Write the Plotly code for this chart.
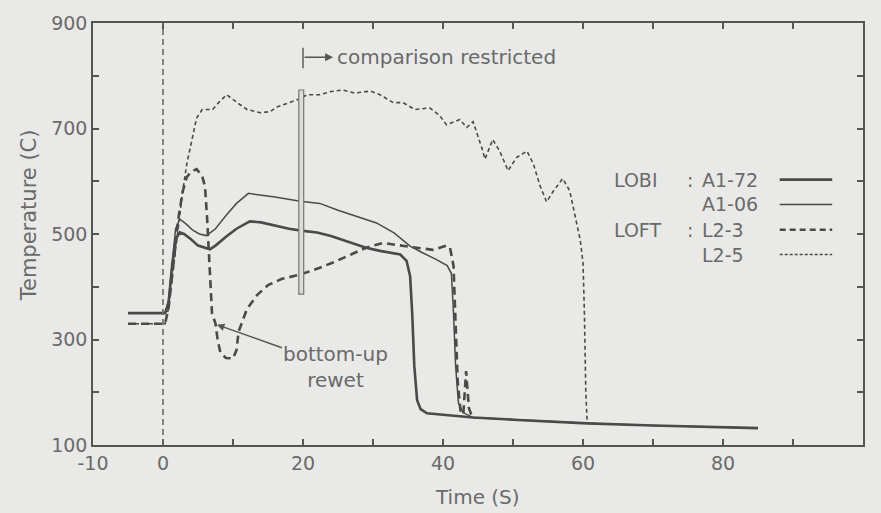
import plotly.graph_objects as go

# ---- data ----
a172_t = [-5, 0.3, 0.8, 1.3, 1.8, 2.4, 3.0, 4.0, 5.0, 6.0, 6.7, 7.5, 9.0, 10.5, 12.4, 14, 16, 18, 20, 22, 24, 26, 29, 31, 33.9, 34.8, 35.3, 35.6, 35.9, 36.3, 36.8, 37.7, 40, 44.3, 50, 60.6, 70, 85]
a172_y = [350, 350, 370, 440, 490, 503, 500, 490, 478, 473, 471, 478, 495, 510, 524, 522, 516, 510, 506, 503, 496, 487, 474, 468, 461, 449, 420, 350, 250, 185, 168, 160, 157, 152, 148, 141, 137, 132]

a106_t = [-5, 0.3, 0.8, 1.3, 1.8, 2.4, 3.2, 4.2, 5.2, 6.2, 7.5, 9.0, 10.5, 12.2, 14, 16, 19.6, 22.4, 25, 28, 30.5, 33, 35.3, 37, 39, 40.6, 41.2, 41.5, 41.8, 42.2, 42.8, 44.3, 50, 60.6, 70, 85]
a106_y = [350, 350, 375, 450, 510, 528, 520, 508, 500, 497, 510, 535, 558, 577, 574, 570, 562, 558, 545, 532, 521, 502, 477, 465, 452, 440, 425, 350, 250, 180, 162, 152, 148, 141, 137, 132]

l23_t = [-5, 0.3, 0.8, 1.5, 2.2, 2.8, 3.4, 4.0, 4.8, 5.6, 6.0, 6.3, 6.6, 7.0, 7.5, 7.8, 8.2, 9.0, 10.0, 10.5, 10.8, 12.0, 13.5, 15.0, 17, 19.6, 22.4, 24.3, 27, 29, 31.4, 33.9, 36.2, 38.6, 40.5, 41.0, 41.5, 41.8, 42.1, 42.5, 42.9, 43.3, 43.7, 44.2]
l23_y = [330, 330, 360, 450, 530, 580, 608, 618, 623, 610, 590, 530, 450, 350, 330, 300, 275, 265, 264, 280, 315, 358, 385, 403, 415, 423, 436, 446, 462, 474, 483, 479, 474, 470, 478, 474, 440, 330, 220, 165, 158, 240, 170, 152]

l25_t = [-5, 0.3, 0.8, 1.5, 2.2, 2.8, 3.4, 4.1, 4.8, 5.6, 7.1, 8.0, 9.1, 10.6, 12, 13.9, 15.3, 16.3, 19.1, 20.6, 22.4, 24, 25.7, 27.4, 29.6, 31, 32.9, 34.3, 36, 38.1, 39.5, 40.5, 42.4, 43.4, 44.3, 45.6, 46, 47.1, 48.1, 49.3, 50.5, 52, 52.9, 53.9, 54.8, 55.8, 57.1, 58.1, 59.0, 59.6, 60.0, 60.2, 60.4, 60.6]
l25_y = [330, 330, 360, 440, 520, 580, 633, 676, 720, 736, 736, 750, 764, 749, 736, 730, 732, 741, 754, 764, 764, 770, 773, 767, 771, 764, 749, 749, 736, 739, 725, 707, 717, 702, 713, 661, 642, 679, 657, 620, 645, 657, 633, 590, 561, 582, 605, 582, 530, 489, 446, 350, 200, 141]

x_tickvals = [-10, 0, 10, 20, 30, 40, 50, 60, 70, 80, 90, 100]
x_ticktext = ["-10", "0", "", "20", "", "40", "", "60", "", "80", "", "100"]
y_tickvals = [100, 200, 300, 400, 500, 600, 700, 800, 900]
y_ticktext = ["100", "", "300", "", "500", "", "700", "", "900"]

BG = "#e9e9e7"
INK = "#4a4a4a"
TXT = "#6a6a6a"
FONT = "DejaVu Sans"

fig = go.Figure()
fig.add_trace(go.Scatter(x=a106_t, y=a106_y, mode="lines", line=dict(color=INK, width=1.5), name="A1-06"))
fig.add_trace(go.Scatter(x=a172_t, y=a172_y, mode="lines", line=dict(color=INK, width=2.6), name="A1-72"))
fig.add_trace(go.Scatter(x=l23_t, y=l23_y, mode="lines", line=dict(color=INK, width=2.6, dash="8px,5px"), name="L2-3"))
fig.add_trace(go.Scatter(x=l25_t, y=l25_y, mode="lines", line=dict(color=INK, width=1.6, dash="4px,3px"), name="L2-5"))

shapes = []
# vertical dashed line at t = 0
shapes.append(dict(type="line", xref="x", yref="y", x0=0, x1=0, y0=100, y1=900,
                   line=dict(color="#6a6a6a", width=1.6, dash="6px,4px")))
# comparison restricted double bar at t = 20
shapes.append(dict(type="rect", xref="x", yref="y", x0=19.4, x1=20.1, y0=386, y1=773,
                   line=dict(color="#777777", width=1.2), fillcolor="#dcdcda", layer="above"))
# comparison restricted marker tick
shapes.append(dict(type="line", xref="x", yref="y", x0=20, x1=20, y0=814, y1=853,
                   line=dict(color="#666666", width=1.6)))

# legend samples
leg_x0, leg_x1 = 88.1, 95.6
leg_rows = [603, 556, 508, 461]
leg_styles = [dict(width=2.6), dict(width=1.5), dict(width=2.6, dash="6px,4px"), dict(width=1.6, dash="3px,2px")]
for yy, st in zip(leg_rows, leg_styles):
    shapes.append(dict(type="line", xref="x", yref="y", x0=leg_x0, x1=leg_x1, y0=yy, y1=yy,
                       line=dict(color=INK, **st)))

annotations = []
# legend texts
fs = 19
annotations.append(dict(x=64.1, y=leg_rows[0], xref="x", yref="y", text="LOBI", showarrow=False, xanchor="left", font=dict(size=fs, color=TXT, family=FONT)))
annotations.append(dict(x=74.6, y=leg_rows[0], xref="x", yref="y", text=":", showarrow=False, xanchor="left", font=dict(size=fs, color=TXT, family=FONT)))
annotations.append(dict(x=76.7, y=leg_rows[0], xref="x", yref="y", text="A1-72", showarrow=False, xanchor="left", font=dict(size=fs, color=TXT, family=FONT)))
annotations.append(dict(x=76.7, y=leg_rows[1], xref="x", yref="y", text="A1-06", showarrow=False, xanchor="left", font=dict(size=fs, color=TXT, family=FONT)))
annotations.append(dict(x=64.1, y=leg_rows[2], xref="x", yref="y", text="LOFT", showarrow=False, xanchor="left", font=dict(size=fs, color=TXT, family=FONT)))
annotations.append(dict(x=74.6, y=leg_rows[2], xref="x", yref="y", text=":", showarrow=False, xanchor="left", font=dict(size=fs, color=TXT, family=FONT)))
annotations.append(dict(x=76.7, y=leg_rows[2], xref="x", yref="y", text="L2-3", showarrow=False, xanchor="left", font=dict(size=fs, color=TXT, family=FONT)))
annotations.append(dict(x=76.7, y=leg_rows[3], xref="x", yref="y", text="L2-5", showarrow=False, xanchor="left", font=dict(size=fs, color=TXT, family=FONT)))

# comparison restricted
annotations.append(dict(x=24.3, y=835, xref="x", yref="y", text="", showarrow=True, ax=-30, ay=0,
                        arrowhead=2, arrowsize=1, arrowwidth=1.6, arrowcolor="#555555"))
annotations.append(dict(x=24.6, y=835, xref="x", yref="y", text="comparison restricted", showarrow=False,
                        xanchor="left", font=dict(size=20, color=TXT, family=FONT)))
# bottom-up rewet
annotations.append(dict(x=7.7, y=328, xref="x", yref="y", text="bottom-up<br>rewet", showarrow=True,
                        ax=119, ay=42, arrowhead=2, arrowsize=1, arrowwidth=1.5, arrowcolor="#555555",
                        align="center", font=dict(size=20, color=TXT, family=FONT)))
# axis titles
annotations.append(dict(x=0.499, y=-0.124, xref="paper", yref="paper", text="Time (S)", showarrow=False,
                        xanchor="center", yanchor="middle", font=dict(size=20, color=TXT, family=FONT)))
annotations.append(dict(x=-0.082, y=0.544, xref="paper", yref="paper", text="Temperature (C)", showarrow=False,
                        textangle=-90, xanchor="center", yanchor="middle", font=dict(size=21, color=TXT, family=FONT)))

axis_common = dict(showgrid=False, zeroline=False, showline=True, linecolor="#555555", linewidth=1.6,
                   mirror="ticks", ticks="inside", ticklen=6, tickwidth=1.5, tickcolor="#555555",
                   tickfont=dict(size=19, color=TXT, family=FONT))

fig.update_layout(
    width=881, height=513,
    margin=dict(l=93, r=18, t=17, b=68),
    paper_bgcolor=BG, plot_bgcolor=BG,
    showlegend=False,
    xaxis=dict(range=[-10, 100], tickmode="array", tickvals=x_tickvals, ticktext=x_ticktext, **axis_common),
    yaxis=dict(range=[100, 900], tickmode="array", tickvals=y_tickvals, ticktext=y_ticktext, **axis_common),
    shapes=shapes,
    annotations=annotations,
)

fig.write_html("out.html")
